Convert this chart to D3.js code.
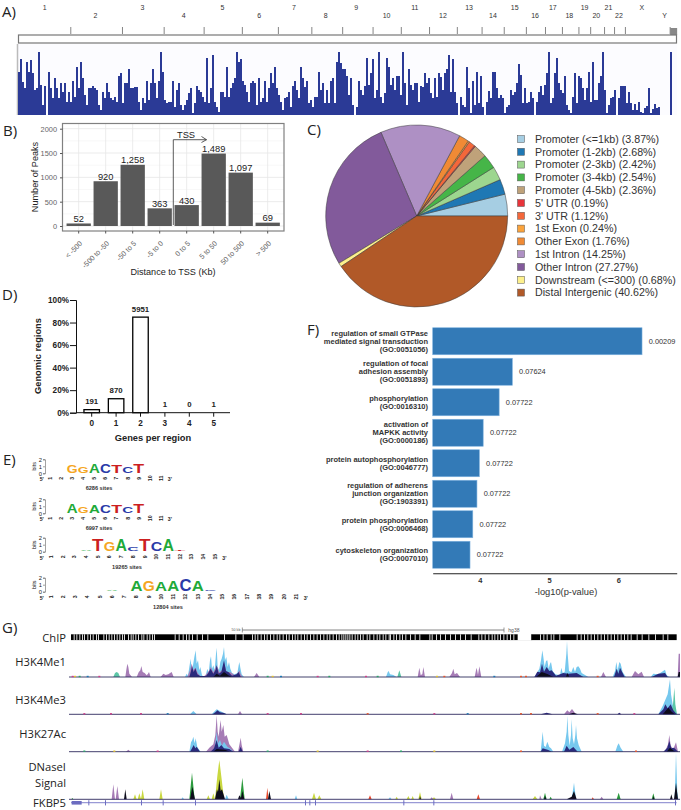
<!DOCTYPE html>
<html>
<head>
<meta charset="utf-8">
<script src="https://cdn.jsdelivr.net/npm/d3@7"></script>
<style>
  body { margin: 0; background: #fff; }
  svg { display: block; font-family: "Liberation Sans", Arial, sans-serif; }
  .panel { font-family: "Open Sans", sans-serif; font-size: 15px; fill: #222; }
  .tracklabel { font-family: "Open Sans", sans-serif; font-size: 11.2px; fill: #222; text-anchor: end; }
</style>
</head>
<body>
<div id="viz"></div>
<script>
// A) karyotype track
var peakCounts = [
  43,56,33,27,53,43,55,42,25,27,63,30,10,29,0,43,27,17,37,27,17,32,23,32,13,23,13,34,18,48,27,53,37,20,10,27,27,29,27,25,10,5,23,17,32,23,17,15,18,13,39,42,12,32,32,46,27,27,28,28,13,5,17,12,34,15,32,46,32,17,34,63,43,15,12,13,13,34,8,25,32,10,5,10,
  15,22,27,2,12,29,25,23,18,13,57,12,27,60,13,8,3,23,23,18,48,18,27,32,37,63,53,56,34,30,23,13,32,34,32,10,37,13,17,34,13,27,42,32,48,27,20,13,5,17,18,23,8,29,34,25,17,48,37,28,34,12,15,8,18,18,43,25,32,12,25,12,34,37,12,53,63,52,46,46,39,20,37,
  10,0,8,34,25,20,29,57,30,42,56,17,25,63,18,12,22,57,48,30,37,25,39,39,20,63,32,10,46,30,25,32,32,13,29,28,42,32,37,22,17,37,18,42,38,25,42,46,60,23,56,23,12,0,18,10,8,48,27,2,34,10,43,12,39,8,0,13,24,17,43,43,27,17,20,17,2,8,10,25,20,23,
  32,51,40,12,27,12,13,23,17,0,13,23,29,20,30,42,63,12,17,42,57,32,25,22,39,10,5,2,18,42,12,39,37,27,15,27,43,13,53,15,15,32,39,63,25,2,10,17,18,25,0,17,29,29,29,12,23,12,5,11,5,13,3,2,7,9,27,2,6,11,7,8,0,0,0,0,0,63
];
var chromTickPos = [163,282,378,470,558,641,718,789,859,924,989,1053,1110,1161,1212,1256,1295,1333,1360,1392,1415,1440,1543];
var chromNames = ['1','2','3','4','5','6','7','8','9','10','11','12','13','14','15','16','17','18','19','20','21','22','X','Y'];
var chromLabelPos = [103,220,328,423,512,597,677,750,820,890,955,1020,1080,1135,1185,1232,1273,1311,1346,1373,1401,1425,1478,1530];

// B) distance to TSS
var tssBins = ['< -500','-500 to -50','-50 to 5','-5 to 0','0 to 5','5 to 50','50 to 500','> 500'];
var tssPeaks = [52,920,1258,363,430,1489,1097,69];
var tssLabels = ['52','920','1,258','363','430','1,489','1,097','69'];
var tssTicks = [0,500,1000,1500,2000];

// C) annotation pie
var annoNames = ['Promoter (<=1kb)','Promoter (1-2kb)','Promoter (2-3kb)','Promoter (3-4kb)','Promoter (4-5kb)',"5' UTR","3' UTR",'1st Exon','Other Exon','1st Intron','Other Intron','Downstream (<=300)','Distal Intergenic'];
var annoPct = [3.87,2.68,2.42,2.54,2.36,0.19,1.12,0.24,1.76,14.25,27.27,0.68,40.62];
var annoColors = ['#a6cee3','#1f78b4','#9dd68f','#46b548','#bfa27a','#e8343a','#f4673a','#fba33c','#f08a35','#ae90c4','#825a9b','#fdf08c','#b15928'];

// D) genes per region
var genesPerRegion = ['0','1','2','3','4','5'];
var regionPct = [2.7,12.4,84.8,0,0,0];
var regionCounts = ['191','870','5951','1','0','1'];
var regionTicks = [0,20,40,60,80,100];

// E) motif logos
var logoSites = ['6286 sites','6997 sites','19265 sites','12804 sites'];
var logoLengths = [11,11,15,21];
var logoLetters = [
  [[3,'G'],[4,'G'],[5,'A'],[6,'C'],[7,'T'],[8,'C'],[9,'T']],
  [[3,'A'],[4,'G'],[5,'A'],[6,'C'],[7,'T'],[8,'C'],[9,'T']],
  [[4,'A'],[5,'T'],[6,'G'],[7,'A'],[8,'C'],[9,'T'],[10,'C'],[11,'A'],[12,'T']],
  [[6,'A'],[8,'A'],[9,'G'],[10,'A'],[11,'A'],[12,'C'],[13,'A'],[14,'C']]
];
var logoBits = [
  [1.15,1.0,1.3,1.35,1.2,1.0,1.3],
  [1.4,0.95,1.2,1.1,1.2,0.85,1.4],
  [0.15,1.75,1.35,1.6,0.55,1.65,1.3,1.7,0.1],
  [0.1,1.55,1.55,1.4,1.55,1.6,1.55,0.1]
];

// F) GO enrichment
var goTerms = [
  ['regulation of small GTPase','mediated signal transduction','(GO:0051056)'],
  ['regulation of focal','adhesion assembly','(GO:0051893)'],
  ['phosphorylation','(GO:0016310)'],
  ['activation of','MAPKK activity','(GO:0000186)'],
  ['protein autophosphorylation','(GO:0046777)'],
  ['regulation of adherens','junction organization','(GO:1903391)'],
  ['protein phosphorylation','(GO:0006468)'],
  ['cytoskeleton organization','(GO:0007010)']
];
var goLogP = [6.34,4.47,4.28,4.05,3.995,3.96,3.90,3.86];
var goAdjP = ['0.00209','0.07624','0.07722','0.07722','0.07722','0.07722','0.07722','0.07722'];
var goTicks = [4,5,6];

// G) browser tracks: [position bin, signal]
var chipStripes = [221,229,238,246,252,262,270,278,288,294,310,318,326,334,342,350,358,366,372,384,392,398,406,414,424,430,440,448,456,462,524,536,548,558,566,576,590,606,622,672,706,728,756,764,772,782,792,800,810,820,830,838,848,858,866,876,884,892,902,912,920,930,940,950,960,970,980,988,998,1008,1016,1024,1030,1036,1042,1048,1055,1064,1072,1080,1088,1100,1108,1120,1130,1138,1148,1156,1166,1170,1180,1188,1198,1206,1216,1230,1244,1258,1288,1295,1308,1320,1335,1350,1365,1380,1395,1412,1435,1444,1454,1465,1475,1483,1492,1500,1510,1520,1530,1540,1620,1630,1640,1652,1660,1678,1730,1742,1752,1762,1772,1782,1792,1802,1812,1822,1832,1842,1852,1862,1872,1882,1892,1910,1925,1945,1965,1988,2002];
var chipGap = [1553,1595];

var me1Blue = [[555,0],[560,10],[564,4],[568,30],[572,55],[575,20],[579,35],[583,60],[587,80],[590,40],[594,50],[598,20],[601,30],[606,5],[612,0],[616,0],[622,25],[626,12],[630,50],[633,62],[636,25],[640,35],[644,20],[648,70],[650,88],[653,30],[657,20],[661,45],[665,55],[669,70],[672,90],[675,50],[679,60],[683,30],[687,45],[691,25],[696,12],[704,8],[712,12],[716,35],[718,45],[721,28],[725,8],[732,0],[1158,0],[1163,14],[1166,18],[1170,8],[1180,6],[1190,0],[1605,0],[1612,14],[1618,25],[1623,50],[1627,80],[1630,60],[1634,30],[1638,48],[1642,50],[1646,25],[1650,40],[1653,45],[1658,18],[1666,8],[1680,5],[1684,28],[1688,12],[1694,15],[1699,70],[1701,108],[1703,70],[1707,18],[1714,14],[1720,30],[1725,15],[1730,30],[1735,32],[1740,25],[1745,12],[1755,6],[1765,0],[1838,0],[1845,18],[1849,45],[1853,20],[1858,45],[1862,40],[1868,15],[1878,0],[1952,0],[1960,10],[1975,8],[1985,15],[1995,22],[2000,5],[2008,0]];
var me1Purple = [[376,0],[379,22],[382,40],[385,30],[388,10],[396,0],[410,0],[416,14],[421,20],[424,33],[428,15],[434,12],[440,5],[444,10],[447,15],[452,0],[482,0],[490,10],[497,6],[505,8],[515,15],[521,0],[562,0],[570,20],[575,40],[580,22],[587,28],[593,12],[600,4],[610,0],[620,10],[628,20],[632,30],[640,14],[650,35],[658,14],[666,20],[672,42],[680,14],[690,15],[705,5],[714,12],[718,20],[722,8],[728,0],[762,0],[770,12],[778,0],[1253,0],[1258,28],[1262,6],[1267,8],[1270,30],[1275,0],[1348,0],[1356,12],[1360,25],[1364,8],[1371,12],[1380,0],[1424,0],[1428,20],[1430,28],[1434,6],[1438,32],[1444,0],[1803,0],[1810,15],[1818,0],[1895,0],[1905,18],[1915,8],[1925,16],[1932,0],[2033,0],[2036,70],[2040,70],[2040,0]];
var me1Teal = [[340,0],[345,12],[350,15],[355,12],[360,0],[1192,0],[1198,20],[1204,0]];
var me1Navy = [[568,0],[573,18],[576,32],[581,15],[586,26],[592,8],[600,3],[618,3],[625,12],[632,25],[640,10],[647,22],[650,35],[656,10],[664,15],[672,50],[678,18],[685,15],[696,4],[710,8],[716,15],[722,0],[1603,0],[1612,16],[1620,14],[1626,40],[1632,16],[1640,30],[1648,18],[1655,20],[1668,4],[1690,12],[1705,10],[1730,12],[1750,0],[1842,0],[1850,25],[1855,10],[1860,28],[1874,0],[1955,0],[1975,10],[1995,12],[2003,0]];
var me1Black = [[640,0],[650,10],[660,4],[672,15],[685,5],[695,0],[1608,0],[1618,8],[1625,15],[1640,10],[1660,0],[1698,0],[1702,12],[1708,0],[2033,0],[2036,15],[2040,15],[2040,0]];

var me3Blue = [[570,0],[580,10],[590,0],[635,0],[650,15],[665,8],[680,0],[1975,0],[1988,25],[2003,60],[2010,105],[2013,60],[2018,30],[2025,10],[2032,0]];
var me3Teal = [[2014,0],[2019,30],[2023,80],[2026,30],[2031,0]];
var me3Purple = [[714,0],[720,10],[726,0],[1692,0],[1702,12],[1708,6],[1716,16],[1728,0]];
var me3Navy = [[638,0],[648,8],[652,12],[660,6],[672,4],[680,0],[1622,0],[1640,5],[1658,0],[1852,0],[1858,5],[1864,0],[1975,0],[1990,15],[1996,30],[2003,18],[2012,30],[2020,12],[2030,0]];
var me3Black = [[1706,0],[1720,5],[1734,0],[1988,0],[2005,20],[2015,8],[2025,0]];

var k27Blue = [[568,0],[573,28],[577,35],[580,45],[584,25],[587,40],[592,14],[596,8],[602,0],[642,0],[648,40],[650,60],[654,25],[660,35],[666,18],[672,30],[682,15],[692,8],[700,0],[1622,0],[1626,40],[1628,60],[1632,18],[1637,14],[1642,30],[1648,14],[1653,10],[1660,0],[1686,0],[1695,25],[1700,60],[1702,108],[1705,50],[1709,18],[1713,50],[1715,98],[1718,40],[1722,22],[1726,50],[1728,80],[1731,40],[1736,20],[1745,0],[1846,0],[1852,18],[1856,25],[1862,12],[1870,0]];
var k27Purple = [[378,0],[385,6],[392,0],[618,0],[628,12],[640,22],[646,50],[650,110],[653,60],[656,45],[660,80],[662,95],[665,60],[670,80],[674,45],[680,50],[688,22],[696,12],[705,0],[714,0],[719,25],[722,42],[725,20],[730,0],[1692,0],[1700,20],[1708,8],[1715,25],[1730,0],[1995,0],[2004,22],[2008,50],[2012,18],[2020,8],[2028,28],[2034,0]];
var k27Navy = [[570,0],[576,10],[581,20],[586,10],[590,15],[600,0],[632,0],[642,10],[650,35],[656,12],[664,20],[672,10],[688,8],[700,0],[716,0],[722,15],[728,0],[1622,0],[1628,10],[1645,5],[1655,0],[1692,0],[1700,18],[1708,6],[1720,14],[1733,0],[1990,0],[2002,12],[2008,32],[2014,10],[2022,12],[2034,0]];
var k27Black = [[640,0],[650,8],[675,6],[690,0],[2000,0],[2010,12],[2025,0]];

var dnaYellow = [[400,0],[405,15],[410,0],[413,0],[418,18],[423,2],[428,30],[433,0],[478,0],[483,30],[488,0],[620,0],[625,12],[630,0],[635,0],[640,18],[645,0],[645,0],[652,70],[658,118],[665,60],[672,0],[936,0],[942,20],[948,0],[952,0],[958,12],[964,0],[1186,0],[1190,8],[1194,0],[1220,0],[1225,10],[1230,0],[1234,0],[1238,10],[1242,0],[1255,0],[1260,22],[1265,0],[1296,0],[1302,6],[1308,0],[1598,0],[1605,10],[1612,0]];
var dnaGreen = [[214,0],[217,4],[220,0],[568,0],[576,80],[584,0],[720,0],[727,65],[734,0],[1630,0],[1635,20],[1640,0],[1648,0],[1652,8],[1656,0],[1850,0],[1856,20],[1862,0],[1955,0],[1960,18],[1965,0]];
var dnaPurple = [[335,0],[340,45],[345,0],[347,0],[352,40],[357,0],[1290,0],[1295,6],[1300,0],[1350,0],[1355,20],[1360,0],[1618,0],[1620,12],[1625,0],[1800,0],[1805,8],[1810,0]];
var dnaRed = [[798,0],[802,35],[806,0],[1105,0],[1110,12],[1115,0],[1430,0],[1435,15],[1440,0],[1775,0],[1778,6],[1782,0]];
var dnaBlue = [[544,0],[548,6],[552,0],[675,0],[680,14],[686,0],[884,0],[888,12],[892,0],[1165,0],[1170,6],[1175,0],[1715,0],[1722,50],[1728,0],[2024,0],[2028,140],[2032,20],[2035,0]];
var dnaBlack = [[372,0],[376,30],[380,0],[570,0],[577,38],[585,0],[645,0],[651,30],[654,22],[658,60],[662,25],[666,30],[675,0],[714,0],[718,12],[723,4],[727,25],[733,0],[804,0],[808,25],[813,0],[1258,0],[1260,10],[1263,0],[1632,0],[1635,10],[1639,0],[1700,0],[1715,8],[1722,25],[1730,0],[1958,0],[1960,10],[1963,0],[2010,0],[2014,15],[2018,0],[2022,0],[2028,50],[2034,0]];

var me1Specks = [[222,'#e0c030'],[236,'#2fa36b'],[215,'#d0408a'],[260,'#1f78b4'],[295,'#d0408a'],[800,'#2fa36b'],[815,'#e0c030'],[840,'#1f78b4'],[950,'#d0408a'],[985,'#2fa36b'],[1095,'#d0408a'],[1130,'#2fa36b'],[1308,'#e0c030'],[1330,'#e4572e'],[1480,'#1f78b4'],[1560,'#e4572e'],[1575,'#e4572e'],[1790,'#e4572e']];
var me3Specks = [[250,'#d0408a'],[330,'#d0408a'],[420,'#d0408a'],[500,'#1f78b4'],[800,'#d0408a'],[900,'#d0408a'],[1100,'#e4572e'],[1300,'#d0408a'],[1400,'#1f78b4'],[1560,'#e4572e'],[1590,'#e4572e'],[1790,'#e4572e'],[1900,'#d0408a']];
var k27Specks = [[250,'#2fa36b'],[340,'#e0c030'],[470,'#d0408a'],[800,'#2fa36b'],[950,'#e0c030'],[1100,'#d0408a'],[1200,'#2fa36b'],[1300,'#e0c030'],[1560,'#e4572e'],[1905,'#e4572e']];

var geneExons = [265,315,423,488,585,915,928,945,1210,1300,2025];

var W = 681, H = 810;
var svg = d3.select('#viz').append('svg').attr('width', W).attr('height', H);

svg.append('defs').append('filter').attr('id', 'soft')
  .attr('x', '-2%').attr('y', '-10%').attr('width', '104%').attr('height', '120%')
  .append('feGaussianBlur').attr('stdDeviation', 0.35);

function panelLabel(t, x, y) {
  svg.append('text').attr('class', 'panel').attr('x', x).attr('y', y).text(t);
}
panelLabel('A)', 2, 17);
panelLabel('B)', 3, 136);
panelLabel('C)', 307, 135);
panelLabel('D)', 2, 300);
panelLabel('E)', 3, 465);
panelLabel('F)', 307, 335);
panelLabel('G)', 2, 633);

drawKaryotype();
drawTss();
drawPie();
drawRegions();
drawLogos();
drawGo();
drawTracks();

function drawKaryotype() {
  var g = svg.append('g');
  var zoomX = d3.scaleLinear().domain([0, 1568]).range([0, 681]);
  var x = d3.scaleBand().domain(d3.range(peakCounts.length)).range([18, 672]);
  var y = d3.scaleLinear().domain([0, 63]).range([115, 52]);

  g.append('rect').attr('x', 18).attr('y', 44).attr('width', 659).attr('height', 71).attr('fill', '#fcfcff');
  g.append('line').attr('x1', 17.5).attr('x2', 17.5).attr('y1', 44).attr('y2', 115).attr('stroke', '#bbb').attr('stroke-width', 1.5);

  g.selectAll('text.chrom').data(chromNames).enter().append('text')
    .attr('class', 'chrom')
    .attr('x', function(d, i) { return zoomX(chromLabelPos[i]); })
    .attr('y', function(d, i) { return i % 2 == 0 ? 10 : 18; })
    .attr('text-anchor', 'middle').attr('font-size', 7).attr('fill', '#333')
    .text(function(d) { return d; });

  g.selectAll('line.tick').data(chromTickPos).enter().append('line')
    .attr('class', 'tick')
    .attr('x1', function(d) { return zoomX(d); }).attr('x2', function(d) { return zoomX(d); })
    .attr('y1', 27).attr('y2', 34).attr('stroke', '#666').attr('stroke-width', 0.8);
  g.append('rect').attr('x', zoomX(1543)).attr('y', 28).attr('width', 7).attr('height', 7).attr('fill', '#888');
  g.append('rect').attr('x', 18.5).attr('y', 35).attr('width', 658).attr('height', 8)
    .attr('fill', '#fff').attr('stroke', '#777').attr('stroke-width', 1.2);

  g.selectAll('rect.peak').data(peakCounts).enter().append('rect')
    .attr('class', 'peak')
    .attr('x', function(d, i) { return x(i); })
    .attr('width', x.bandwidth())
    .attr('y', function(d) { return y(d); })
    .attr('height', function(d) { return y(0) - y(d); })
    .attr('fill', '#2b3a96');
}

function drawTss() {
  var g = svg.append('g');
  var x = d3.scaleBand().domain(tssBins).range([65.2, 281.2]).paddingInner(0.1).paddingOuter(0.05);
  var y = d3.scaleLinear().domain([0, 2000]).range([226, 128.7]);

  g.append('rect').attr('x', 62.5).attr('y', 123.5).attr('width', 221.5).attr('height', 107.5).attr('fill', '#fff');
  // grid
  g.selectAll('line.minor').data([250,750,1250,1750]).enter().append('line')
    .attr('x1', 62.5).attr('x2', 284)
    .attr('y1', function(d) { return y(d); }).attr('y2', function(d) { return y(d); })
    .attr('stroke', '#f0f0f0').attr('stroke-width', 0.5);
  g.selectAll('line.major').data(tssTicks).enter().append('line')
    .attr('x1', 62.5).attr('x2', 284)
    .attr('y1', function(d) { return y(d); }).attr('y2', function(d) { return y(d); })
    .attr('stroke', '#e6e6e6').attr('stroke-width', 0.8);
  g.selectAll('line.vert').data(tssBins).enter().append('line')
    .attr('y1', 123.5).attr('y2', 231)
    .attr('x1', function(d) { return x(d) + x.bandwidth() / 2; }).attr('x2', function(d) { return x(d) + x.bandwidth() / 2; })
    .attr('stroke', '#e6e6e6').attr('stroke-width', 0.8);

  g.selectAll('rect.bar').data(tssPeaks).enter().append('rect')
    .attr('class', 'bar')
    .attr('x', function(d, i) { return x(tssBins[i]); })
    .attr('width', x.bandwidth())
    .attr('y', function(d) { return y(d); })
    .attr('height', function(d) { return y(0) - y(d); })
    .attr('fill', '#595959');

  g.selectAll('text.val').data(tssLabels).enter().append('text')
    .attr('class', 'val')
    .attr('x', function(d, i) { return x(tssBins[i]) + x.bandwidth() / 2; })
    .attr('y', function(d, i) { return y(tssPeaks[i]) - 1.5; })
    .attr('text-anchor', 'middle').attr('font-size', 9.3).attr('fill', '#222')
    .text(function(d) { return d; });

  g.append('rect').attr('x', 62.5).attr('y', 123.5).attr('width', 221.5).attr('height', 107.5)
    .attr('fill', 'none').attr('stroke', '#808080').attr('stroke-width', 1.2);

  var yAxis = g.append('g').attr('transform', 'translate(62.5,0)')
    .call(d3.axisLeft(y).tickValues(tssTicks).tickSize(2.5).tickPadding(3).tickFormat(d3.format('d')));
  yAxis.select('.domain').remove();
  yAxis.selectAll('text').attr('font-size', 7.4).attr('font-family', 'inherit').attr('fill', '#666');
  yAxis.selectAll('line').attr('stroke', '#555');

  var xAxis = g.append('g').attr('transform', 'translate(0,231)')
    .call(d3.axisBottom(x).tickSize(2.5));
  xAxis.select('.domain').remove();
  xAxis.selectAll('line').attr('stroke', '#555');
  xAxis.selectAll('text')
    .attr('font-size', 7.2).attr('font-family', 'inherit').attr('fill', '#666')
    .attr('text-anchor', 'end').attr('dy', 0).attr('y', 0)
    .attr('transform', 'translate(4,13) rotate(-45)');

  g.append('text').attr('transform', 'translate(38,177) rotate(-90)')
    .attr('text-anchor', 'middle').attr('font-size', 9.1).attr('fill', '#222').text('Number of Peaks');
  g.append('text').attr('x', 173).attr('y', 275)
    .attr('text-anchor', 'middle').attr('font-size', 9.1).attr('fill', '#222').text('Distance to TSS (Kb)');

  // TSS arrow
  var arrowX = d3.line();
  g.append('path').attr('d', arrowX([[173.3, 225], [173.3, 139.7], [206.5, 139.7]]))
    .attr('fill', 'none').attr('stroke', '#333').attr('stroke-width', 0.8);
  g.append('path').attr('d', arrowX([[201.5, 136.5], [206.5, 139.7], [201.5, 142.5]]))
    .attr('fill', 'none').attr('stroke', '#333').attr('stroke-width', 0.8);
  g.append('text').attr('x', 186).attr('y', 138).attr('text-anchor', 'middle').attr('font-size', 9.3).attr('fill', '#222').text('TSS');
}

function drawPie() {
  var g = svg.append('g').attr('transform', 'translate(416.7,216)');
  var pie = d3.pie().sort(null).startAngle(Math.PI / 2).endAngle(Math.PI / 2 - 2 * Math.PI);
  var arc = d3.arc().innerRadius(0).outerRadius(91);

  g.selectAll('path').data(pie(annoPct)).enter().append('path')
    .attr('d', arc)
    .attr('fill', function(d, i) { return annoColors[i]; })
    .attr('stroke', '#3a3a3a').attr('stroke-width', 0.5);

  var legendY = d3.scaleLinear().domain([0, 12]).range([139, 292.6]);
  var legend = svg.append('g');
  legend.selectAll('rect').data(annoNames).enter().append('rect')
    .attr('x', 517.5).attr('y', function(d, i) { return legendY(i) - 3.5; })
    .attr('width', 7).attr('height', 7)
    .attr('fill', function(d, i) { return annoColors[i]; })
    .attr('stroke', '#555').attr('stroke-width', 0.5);
  legend.selectAll('text').data(annoNames).enter().append('text')
    .attr('x', 535).attr('y', function(d, i) { return legendY(i) + 3.7; })
    .attr('font-size', 10.7).attr('fill', '#333')
    .text(function(d, i) { return d + ' (' + annoPct[i].toFixed(2) + '%)'; });
}

function drawRegions() {
  var g = svg.append('g');
  var x = d3.scaleBand().domain(genesPerRegion).range([79.5, 225.9]).paddingInner(0.365).paddingOuter(0.1825);
  var y = d3.scaleLinear().domain([0, 100]).range([412.7, 300]);

  g.selectAll('rect').data(regionPct).enter().append('rect')
    .attr('x', function(d, i) { return x(genesPerRegion[i]); })
    .attr('width', x.bandwidth())
    .attr('y', function(d) { return y(d); })
    .attr('height', function(d) { return y(0) - y(d); })
    .attr('fill', '#fff').attr('stroke', '#000').attr('stroke-width', 1.3);

  g.selectAll('text.val').data(regionCounts).enter().append('text')
    .attr('class', 'val')
    .attr('x', function(d, i) { return x(genesPerRegion[i]) + x.bandwidth() / 2; })
    .attr('y', function(d, i) { return y(regionPct[i]) - 5.5; })
    .attr('text-anchor', 'middle').attr('font-size', 7.8).attr('font-weight', 'bold').attr('fill', '#222')
    .text(function(d) { return d; });

  var yAxis = g.append('g').attr('transform', 'translate(76,0)')
    .call(d3.axisLeft(y).tickValues(regionTicks).tickSize(6).tickPadding(1).tickFormat(function(d) { return d + '%'; }));
  yAxis.selectAll('text').attr('font-size', 8.2).attr('font-weight', 'bold').attr('font-family', 'inherit').attr('fill', '#222');
  yAxis.selectAll('line,.domain').attr('stroke', '#111').attr('stroke-width', 1);

  var xAxis = g.append('g').attr('transform', 'translate(0,412.7)')
    .call(d3.axisBottom(x).tickSize(4).tickPadding(3));
  xAxis.select('.domain').attr('d', 'M76,0H230').attr('stroke', '#111').attr('stroke-width', 1);
  xAxis.selectAll('line').attr('stroke', '#111');
  xAxis.selectAll('text').attr('font-size', 8.2).attr('font-weight', 'bold').attr('font-family', 'inherit').attr('fill', '#222');

  g.append('text').attr('x', 153).attr('y', 441).attr('text-anchor', 'middle')
    .attr('font-size', 9.3).attr('font-weight', 'bold').attr('fill', '#222').text('Genes per region');
  g.append('text').attr('transform', 'translate(41,356) rotate(-90)').attr('text-anchor', 'middle')
    .attr('font-size', 9.3).attr('font-weight', 'bold').attr('fill', '#222').text('Genomic regions');
}

function drawLogos() {
  var baseColors = { A: '#1faa3a', C: '#2a3aa8', G: '#f5a623', T: '#cc1f1f' };
  var baselines = [473.3, 513.3, 551.7, 591.7];
  var firstPos = [50, 50, 51, 50.7];
  var lastPos = [161, 161, 215, 296];
  var siteX = [99, 99, 127, 168];
  var siteY = [490, 530, 569, 609];

  logoLengths.forEach(function(n, k) {
    var g = svg.append('g');
    var x = d3.scaleLinear().domain([1, n]).range([firstPos[k], lastPos[k]]);
    var y = d3.scaleLinear().domain([0, 2]).range([baselines[k], baselines[k] - 14]);
    var step = x(2) - x(1);

    var axis = g.append('g').attr('transform', 'translate(45,0)')
      .call(d3.axisLeft(y).tickValues([0, 1, 2]).tickSize(2).tickPadding(1).tickFormat(d3.format('d')));
    axis.selectAll('text').attr('font-size', 5.8).attr('font-family', 'inherit').attr('fill', '#222');
    axis.selectAll('line,.domain').attr('stroke', '#444').attr('stroke-width', 0.5);

    g.append('text').attr('transform', 'translate(36,' + y(1) + ') rotate(-90)')
      .attr('text-anchor', 'middle').attr('font-size', 5.4).attr('fill', '#222').text('bits');

    g.selectAll('text.pos').data(d3.range(1, n + 1)).enter().append('text')
      .attr('class', 'pos')
      .attr('transform', function(d) { return 'translate(' + (x(d) + 1.8) + ',' + (baselines[k] + 5) + ') rotate(-90)'; })
      .attr('text-anchor', 'middle').attr('font-size', 5.2).attr('font-weight', 'bold').attr('fill', '#222')
      .text(function(d) { return d; });

    g.append('text').attr('x', 41.7).attr('y', baselines[k] + 8).attr('text-anchor', 'middle')
      .attr('font-size', 5.2).attr('font-weight', 'bold').attr('fill', '#222').text("5'");
    g.append('text').attr('x', lastPos[k] + step * 0.8).attr('y', baselines[k] + 8).attr('text-anchor', 'middle')
      .attr('font-size', 5.2).attr('font-weight', 'bold').attr('fill', '#222').text("3'");

    g.selectAll('text.base').data(logoLetters[k]).enter().append('text')
      .attr('class', 'base')
      .attr('font-size', 100).attr('font-weight', 'bold')
      .attr('fill', function(d) { return baseColors[d[1]]; })
      .text(function(d) { return d[1]; })
      .attr('transform', function(d, i) {
        var len = this.getComputedTextLength();
        var sx = step * 0.98 / len;
        var sy = (y(0) - y(logoBits[k][i])) / 71.6;
        return 'translate(' + (x(d[0]) - step * 0.49) + ',' + (baselines[k] - 0.5) + ') scale(' + sx + ',' + sy + ')';
      });

    g.append('text').attr('x', siteX[k]).attr('y', siteY[k]).attr('text-anchor', 'middle')
      .attr('font-size', 5.6).attr('font-weight', 'bold').attr('fill', '#333').text(logoSites[k]);
  });
}

function drawGo() {
  var g = svg.append('g');
  var x = d3.scaleLinear().domain([3.322, 6.84]).range([432.7, 676.7]);
  var y = d3.scaleBand().domain(d3.range(goTerms.length)).range([326, 570]).paddingInner(0.115).paddingOuter(0.0575);

  g.selectAll('rect').data(goLogP).enter().append('rect')
    .attr('x', x(3.322))
    .attr('y', function(d, i) { return y(i); })
    .attr('width', function(d) { return x(d) - x(3.322); })
    .attr('height', y.bandwidth())
    .attr('fill', '#337ab7').attr('stroke', '#7fb2de').attr('stroke-width', 0.6);

  g.selectAll('text.p').data(goAdjP).enter().append('text')
    .attr('class', 'p')
    .attr('x', function(d, i) { return x(goLogP[i]) + 6.7; })
    .attr('y', function(d, i) { return y(i) + y.bandwidth() / 2 + 2.6; })
    .attr('font-size', 7.4).attr('fill', '#333')
    .text(function(d) { return d; });

  goTerms.forEach(function(lines, i) {
    var mid = y(i) + y.bandwidth() / 2;
    g.selectAll('text.t' + i).data(lines).enter().append('text')
      .attr('class', 't' + i)
      .attr('x', 428)
      .attr('y', function(d, j) { return mid + (j - (lines.length - 1) / 2) * 8 + 2.6; })
      .attr('text-anchor', 'end').attr('font-size', 7.5).attr('font-weight', 'bold').attr('fill', '#333')
      .text(function(d) { return d; });
  });

  var axis = g.append('g').attr('transform', 'translate(0,573.3)')
    .call(d3.axisBottom(x).tickValues(goTicks).tickSize(0).tickPadding(4).tickFormat(d3.format('d')));
  axis.select('.domain').attr('stroke', '#222').attr('stroke-width', 1.1);
  axis.selectAll('text').attr('font-size', 7.5).attr('font-weight', 'bold').attr('font-family', 'inherit').attr('fill', '#333');

  g.append('text').attr('x', 566).attr('y', 595).attr('text-anchor', 'middle')
    .attr('font-size', 9.3).attr('fill', '#333').text('-log10(p-value)');
}

function drawTracks() {
  var g = svg.append('g');
  // positions are read in bins of a third of a pixel
  var x = d3.scaleLinear().domain([0, 2043]).range([0, 681]);
  var sig = d3.scaleLinear().domain([0, 150]).range([0, 50]);

  // ChIP bar
  g.append('rect').attr('x', x(213)).attr('y', 634.3).attr('width', x(2030) - x(213)).attr('height', 5.8).attr('fill', '#000');
  g.selectAll('rect.stripe').data(chipStripes).enter().append('rect')
    .attr('class', 'stripe')
    .attr('x', function(d) { return x(d); })
    .attr('y', 634.3).attr('width', x(3)).attr('height', 5.8).attr('fill', '#fff').attr('opacity', 0.85);
  g.append('rect').attr('x', x(chipGap[0])).attr('y', 634).attr('width', x(chipGap[1]) - x(chipGap[0])).attr('height', 6.5).attr('fill', '#fff');
  g.append('rect').attr('x', x(1594)).attr('y', 634.3).attr('width', 0.8).attr('height', 5.8).attr('fill', '#000');

  // scale bar
  g.append('line').attr('x1', x(727)).attr('x2', x(1512)).attr('y1', 630).attr('y2', 630).attr('stroke', '#777').attr('stroke-width', 0.9);
  g.append('line').attr('x1', x(727)).attr('x2', x(727)).attr('y1', 627.5).attr('y2', 632.5).attr('stroke', '#555').attr('stroke-width', 0.6);
  g.append('line').attr('x1', x(1512)).attr('x2', x(1512)).attr('y1', 627.5).attr('y2', 632.5).attr('stroke', '#555').attr('stroke-width', 0.6);
  g.append('text').attr('x', x(708)).attr('y', 631.3).attr('text-anchor', 'middle').attr('font-size', 3.6).attr('fill', '#555').text('50 kb');
  g.append('text').attr('x', x(1525)).attr('y', 631.8).attr('font-size', 5).attr('fill', '#555').text('hg38');

  var labels = [['ChIP', 642], ['H3K4Me1', 666], ['H3K4Me3', 704], ['H3K27Ac', 738], ['DNaseI', 771], ['Signal', 787], ['FKBP5', 807]];
  g.selectAll('text.tracklabel').data(labels).enter().append('text')
    .attr('class', 'tracklabel')
    .attr('x', 66).attr('y', function(d) { return d[1]; })
    .text(function(d) { return d[0]; });

  var layerColors = { blue: '#76c8ee', teal: '#5cc6a6', purple: '#a67cb6', navy: '#2c2a7c', black: '#0d0d1a', yellow: '#c9d83f', green: '#2b9a3c', red: '#e8492c' };

  function drawLayer(parent, baseline, points, color) {
    var area = d3.area()
      .x(function(d) { return x(d[0]); })
      .y0(baseline)
      .y1(function(d) { return baseline - sig(d[1]); });
    parent.append('path').attr('d', area(points)).attr('fill', layerColors[color]);
  }

  function drawTrack(baseline, layers, specks) {
    var t = g.append('g').attr('filter', 'url(#soft)');
    layers.forEach(function(l) { drawLayer(t, baseline, l[0], l[1]); });
    t.append('line').attr('x1', x(207)).attr('x2', x(2040)).attr('y1', baseline).attr('y2', baseline)
      .attr('stroke', '#2c2a5c').attr('stroke-width', 0.9);
    t.selectAll('rect').data(specks).enter().append('rect')
      .attr('x', function(d) { return x(d[0]); })
      .attr('y', baseline - 1.2).attr('width', 2).attr('height', 1.4)
      .attr('fill', function(d) { return d[1]; });
  }

  drawTrack(677, [[me1Blue,'blue'],[me1Teal,'teal'],[me1Purple,'purple'],[me1Navy,'navy'],[me1Black,'black']], me1Specks);
  drawTrack(714.3, [[me3Blue,'blue'],[me3Teal,'teal'],[me3Purple,'purple'],[me3Navy,'navy'],[me3Black,'black']], me3Specks);
  drawTrack(751.7, [[k27Purple,'purple'],[k27Blue,'blue'],[k27Navy,'navy'],[k27Black,'black']], k27Specks);
  drawTrack(799.3, [[dnaYellow,'yellow'],[dnaGreen,'green'],[dnaPurple,'purple'],[dnaRed,'red'],[dnaBlue,'blue'],[dnaBlack,'black']], []);

  // gene model
  g.append('line').attr('x1', x(213)).attr('x2', x(2030)).attr('y1', 802.7).attr('y2', 802.7).attr('stroke', '#9a9ad6').attr('stroke-width', 1.2);
  g.append('rect').attr('x', x(215)).attr('y', 801).attr('width', x(30)).attr('height', 3.6).attr('fill', '#6c6cc0');
  g.selectAll('rect.exon').data(geneExons).enter().append('rect')
    .attr('class', 'exon')
    .attr('x', function(d) { return x(d); })
    .attr('y', 800.2).attr('width', 1).attr('height', 5.2).attr('fill', '#6c6cc0');
}
</script>
</body>
</html>
